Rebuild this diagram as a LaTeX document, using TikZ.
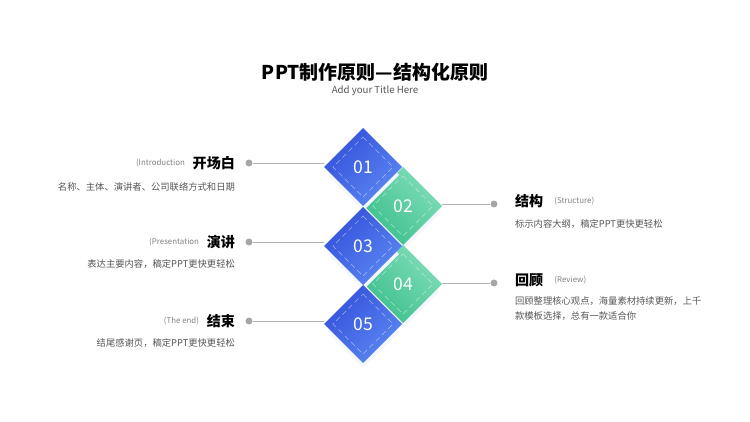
\documentclass[tikz,border=0pt]{standalone}
\usepackage{fontspec}
\setmainfont{Noto Sans CJK SC}
\usepackage{tikz}
\usetikzlibrary{positioning}
\definecolor{blueA}{HTML}{3552DB}
\definecolor{blueB}{HTML}{5A86F2}
\definecolor{greenA}{HTML}{3DBF8C}
\definecolor{greenB}{HTML}{7FDDB8}
\definecolor{txtgray}{HTML}{555555}

\begin{document}
\begin{tikzpicture}[x=0.02cm, y=-0.02cm,
    bluebox/.style={top color=blueA, bottom color=blueB, shading angle=45},
    greenbox/.style={top color=greenB, bottom color=greenA, shading angle=-45},
    num/.style={text=white, font=\fontsize{10}{12}\selectfont},
    dot/.style={circle, fill=gray!70, inner sep=1.4pt},
    lnk/.style={gray!60, line width=0.5pt},
    head/.style={font=\fontsize{8}{10}\selectfont\bfseries, inner sep=1pt},
    eng/.style={font=\fontsize{4.5}{6}\selectfont, text=gray, inner sep=1pt},
    desc/.style={font=\fontsize{5.3}{8.5}\selectfont, text=txtgray, inner sep=1pt, align=left}
]
\useasboundingbox (0,0) rectangle (750,422);

% title
\node[font=\fontsize{10.8}{13}\selectfont\bfseries] (title) at (375,72) {PPT制作原则—结构化原则};
\node[font=\fontsize{5.5}{7}\selectfont, text=txtgray] (sub) at (375,91) {Add your Title Here};

% diamonds
\foreach \n/\cx/\cy/\st in {02/403/206/greenbox, 04/403/284/greenbox, 01/363/167/bluebox, 03/363/246/bluebox, 05/363/324/bluebox}{
  \fill[blueB!7] (\cx,\cy+44) -- (\cx+36,\cy+8) -- (\cx,\cy-28) -- (\cx-36,\cy+8) -- cycle;
  \shade[\st] (\cx,\cy-39) -- (\cx+39,\cy) -- (\cx,\cy+39) -- (\cx-39,\cy) -- cycle;
  \draw[white, opacity=0.5, densely dashed, line width=0.25pt] (\cx,\cy-30) -- (\cx+30,\cy) -- (\cx,\cy+30) -- (\cx-30,\cy) -- cycle;
  \node[num] (d\n) at (\cx,\cy) {\n};
}

% left items
\node[dot] (p1) at (249,163) {};
\node[dot] (p3) at (249,242) {};
\node[dot] (p5) at (249,321) {};
\coordinate (e1) at (324,163);
\coordinate (e3) at (324,242);
\coordinate (e5) at (324,321);
\draw[lnk] (p1) -- (e1);
\draw[lnk] (p3) -- (e3);
\draw[lnk] (p5) -- (e5);

\node[head, anchor=east] (h1) at (237,163) {开场白};
\node[eng, anchor=east, left=2pt of h1] (g1) {(Introduction};
\node[desc, anchor=east] (t1) at (237,187) {名称、主体、演讲者、公司联络方式和日期};

\node[head, anchor=east] (h3) at (237,242) {演讲};
\node[eng, anchor=east, left=2pt of h3] (g3) {(Presentation};
\node[desc, anchor=east] (t3) at (237,264) {表达主要内容，稿定PPT更快更轻松};

\node[head, anchor=east] (h5) at (237,321) {结束};
\node[eng, anchor=east, left=2pt of h5] (g5) {(The end)};
\node[desc, anchor=east] (t5) at (237,343) {结尾感谢页，稿定PPT更快更轻松};

% right items
\node[dot] (p2) at (494,204) {};
\node[dot] (p4) at (494,283) {};
\coordinate (e2) at (442,204);
\coordinate (e4) at (442,283);
\draw[lnk] (e2) -- (p2);
\draw[lnk] (e4) -- (p4);

\node[head, anchor=west] (h2) at (513,201) {结构};
\node[eng, anchor=west, right=4pt of h2] (g2) {(Structure)};
\node[desc, anchor=west] (t2) at (513,224) {标示内容大纲，稿定PPT更快更轻松};

\node[head, anchor=west] (h4) at (513,280) {回顾};
\node[eng, anchor=west, right=4pt of h4] (g4) {(Review)};
\node[desc, anchor=north west] (t4) at (513,295) {回顾整理核心观点，海量素材持续更新，上千\\款模板选择，总有一款适合你};
\end{tikzpicture}
\end{document}
